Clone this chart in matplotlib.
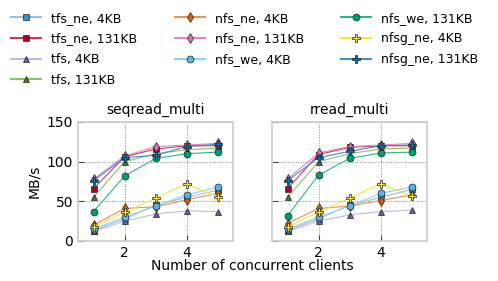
import matplotlib
matplotlib.use("Agg")
import matplotlib.pyplot as plt

clients = [1, 2, 3, 4, 5]
labels = ["tfs_ne, 4KB", "tfs_ne, 131KB", "tfs, 4KB", "tfs, 131KB",
          "nfs_ne, 4KB", "nfs_ne, 131KB", "nfs_we, 4KB", "nfs_we, 131KB",
          "nfsg_ne, 4KB", "nfsg_ne, 131KB"]

seq_tfs_ne_4 = [13, 28, 45, 55, 64]
seq_tfs_ne_131 = [66, 106, 116, 120, 120]
seq_tfs_4 = [12, 25, 34, 38, 37]
seq_tfs_131 = [55, 100, 110, 115, 117]
seq_nfs_ne_4 = [20, 41, 43, 52, 60]
seq_nfs_ne_131 = [78, 107, 119, 121, 123]
seq_nfs_we_4 = [15, 30, 44, 58, 68]
seq_nfs_we_131 = [37, 82, 104, 110, 112]
seq_nfsg_ne_4 = [18, 36, 54, 72, 56]
seq_nfsg_ne_131 = [76, 105, 108, 119, 122]

rr_tfs_ne_4 = [13, 28, 45, 55, 65]
rr_tfs_ne_131 = [66, 109, 118, 120, 120]
rr_tfs_4 = [12, 25, 33, 37, 39]
rr_tfs_131 = [55, 100, 110, 116, 117]
rr_nfs_ne_4 = [22, 41, 44, 51, 58]
rr_nfs_ne_131 = [78, 111, 119, 121, 123]
rr_nfs_we_4 = [15, 30, 44, 60, 68]
rr_nfs_we_131 = [32, 83, 104, 111, 112]
rr_nfsg_ne_4 = [18, 36, 54, 72, 57]
rr_nfsg_ne_131 = [76, 105, 113, 120, 121]

seq = [seq_tfs_ne_4, seq_tfs_ne_131, seq_tfs_4, seq_tfs_131, seq_nfs_ne_4,
       seq_nfs_ne_131, seq_nfs_we_4, seq_nfs_we_131, seq_nfsg_ne_4, seq_nfsg_ne_131]
rr = [rr_tfs_ne_4, rr_tfs_ne_131, rr_tfs_4, rr_tfs_131, rr_nfs_ne_4,
      rr_nfs_ne_131, rr_nfs_we_4, rr_nfs_we_131, rr_nfsg_ne_4, rr_nfsg_ne_131]

markers = ['s', 's', '^', '^', 'd', 'd', 'o', 'o', 'P', 'P']
mcolors = ['#3a8fc4', '#a50034', '#6a5aa8', '#3f7d1e', '#d35f00',
           '#cc79a7', '#56b4e9', '#009e73', '#f0e442', '#0072b2']
lcolors = ['#8fc3e3', '#d03a5a', '#c3b8e0', '#8fbf6a', '#f0904a',
           '#e08ab8', '#8fd0f2', '#2fb58c', '#f2e640', '#3d8fcc']

fig = plt.figure(figsize=(4.98, 2.81), dpi=100)
ax1 = fig.add_axes([78/498, 1-241/281, 155/498, 119/281])
ax2 = fig.add_axes([272/498, 1-241/281, 155/498, 119/281], sharey=ax1)

for ax, data, title in [(ax1, seq, "seqread_multi"), (ax2, rr, "rread_multi")]:
    for i in range(10):
        ax.plot(clients, data[i], marker=markers[i], color=lcolors[i],
                markerfacecolor=mcolors[i], markeredgecolor='#222222',
                markeredgewidth=0.5, markersize=5 if markers[i] != 'P' else 6,
                linewidth=0.8, label=labels[i])
    ax.set_xlim(0.5, 5.5)
    ax.set_ylim(0, 150)
    ax.set_xticks([2, 4])
    ax.set_yticks([0, 50, 100, 150])
    ax.grid(True, linestyle=':', color='#888888', linewidth=0.7)
    ax.set_title(title, fontsize=10)
    ax.tick_params(direction='in', labelsize=10, length=4, color='#444444')
    for s in ax.spines.values():
        s.set_color('#cccccc')
        s.set_linewidth(1.2)

ax2.tick_params(labelleft=False)
ax1.set_ylabel("MB/s", fontsize=10)
fig.text((78 + 427) / 2 / 498, 1 - 266/281, "Number of concurrent clients",
         ha='center', va='center', fontsize=10)

handles, labs = ax1.get_legend_handles_labels()
leg = fig.legend(handles, labs, loc='upper left', bbox_to_anchor=(0.005, 0.99),
                 ncol=3, frameon=False, fontsize=9, handlelength=2.4,
                 handletextpad=0.8, columnspacing=3.0, labelspacing=0.62,
                 borderaxespad=0.3)
for h in leg.legend_handles:
    h.set_linewidth(1.5)

fig.savefig("out.png", dpi=100)
